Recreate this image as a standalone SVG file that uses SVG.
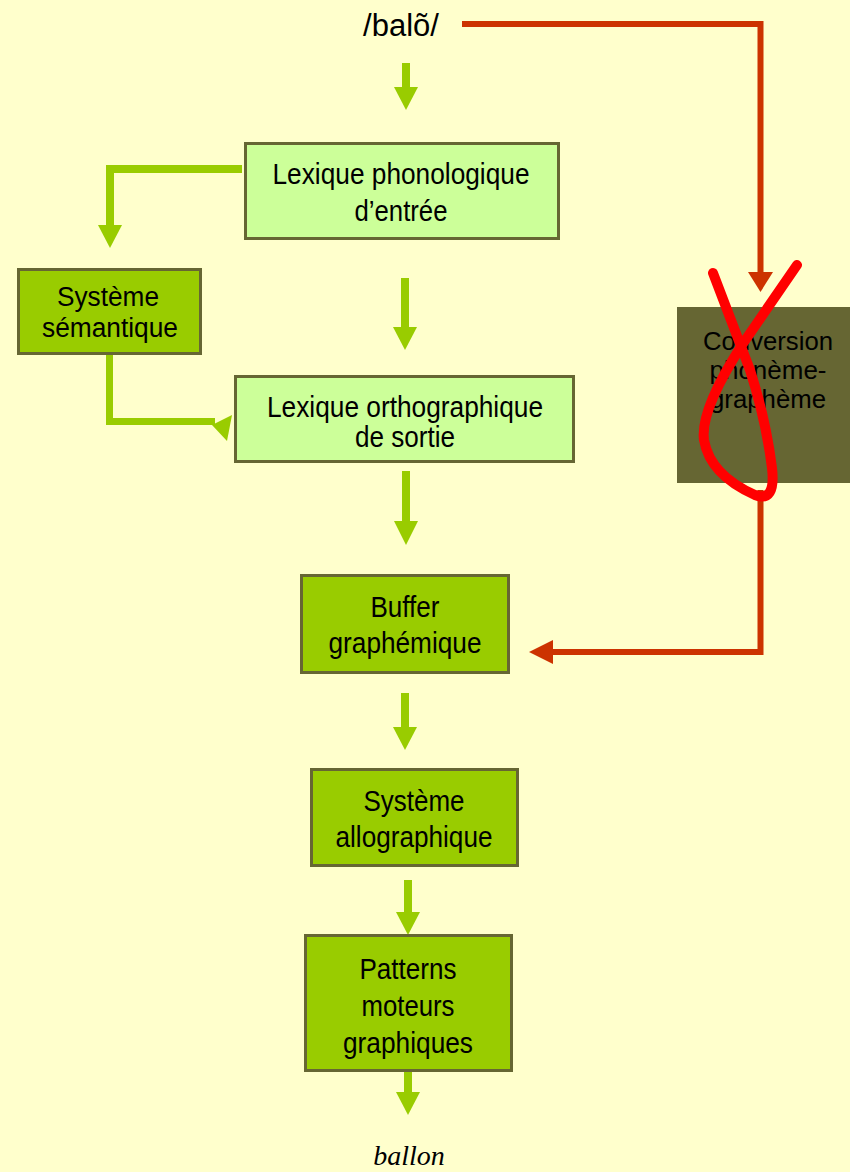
<svg xmlns="http://www.w3.org/2000/svg" width="850" height="1172" viewBox="0 0 850 1172">
<defs>
<style>
.bg{fill:#FFFFCC}
.light{fill:#CCFF99;stroke:#666633;stroke-width:3}
.dark{fill:#99CC00;stroke:#666633;stroke-width:3}
.olive{fill:#666633}
.t{font-family:"Liberation Sans",Arial,sans-serif;font-size:30px;fill:#000;text-anchor:middle}
.c{font-size:25px}
.g{fill:none;stroke:#99CC00;stroke-width:8}
.gh{fill:#99CC00}
.r{fill:none;stroke:#CC3300;stroke-width:6}
.rh{fill:#CC3300}
</style>
</defs>
<rect class="bg" x="0" y="0" width="850" height="1172"/>

<g id="connectors">
  <line class="g" x1="406" y1="63" x2="406" y2="89"/>
  <polygon class="gh" points="394,87 418,87 406,110"/>
  <polyline class="g" points="242,169 110,169 110,227"/>
  <polygon class="gh" points="98,225 122,225 110,248"/>
  <line class="g" x1="405" y1="278" x2="405" y2="329"/>
  <polygon class="gh" points="393,327 417,327 405,350"/>
  <polyline class="g" points="109.5,354 109.5,421.5 215,421.5" style="stroke-width:7"/>
  <polygon class="gh" points="212,425 232,415 227,441"/>
  <line class="g" x1="406" y1="471" x2="406" y2="523"/>
  <polygon class="gh" points="394,521 418,521 406,545"/>
  <line class="g" x1="405" y1="693" x2="405" y2="729"/>
  <polygon class="gh" points="393,727 417,727 405,750"/>
  <line class="g" x1="408" y1="880" x2="408" y2="914"/>
  <polygon class="gh" points="396,912 420,912 408,935"/>
  <line class="g" x1="408" y1="1070" x2="408" y2="1094"/>
  <polygon class="gh" points="396,1092 420,1092 408,1115"/>
  <polyline class="r" points="462,24 760.5,24 760.5,275"/>
  <polygon class="rh" points="748,272 773,272 760.5,292"/>
  <polyline class="r" points="760.5,490 760.5,652 550,652"/>
  <polygon class="rh" points="553,640 553,664 529,652"/>
</g>

<text class="t" x="401" y="36" style="font-size:31px">/balõ/</text>

<g id="lexique-phonologique">
  <rect class="light" x="245.5" y="143.5" width="313" height="95"/>
  <text class="t" x="401" y="184" textLength="257" lengthAdjust="spacingAndGlyphs">Lexique phonologique</text>
  <text class="t" x="401" y="221" textLength="93" lengthAdjust="spacingAndGlyphs">d’entrée</text>
</g>

<g id="systeme-semantique">
  <rect class="dark" x="18.5" y="269.5" width="182" height="84"/>
  <text class="t" x="108" y="306" textLength="102" lengthAdjust="spacingAndGlyphs" style="font-size:27px">Système</text>
  <text class="t" x="110" y="337" textLength="136" lengthAdjust="spacingAndGlyphs" style="font-size:27px">sémantique</text>
</g>

<g id="lexique-orthographique">
  <rect class="light" x="235.5" y="376.5" width="338" height="85"/>
  <text class="t" x="405" y="417" textLength="276" lengthAdjust="spacingAndGlyphs">Lexique orthographique</text>
  <text class="t" x="405" y="447" textLength="100" lengthAdjust="spacingAndGlyphs">de sortie</text>
</g>

<g id="conversion">
  <rect class="olive" x="677" y="307" width="173" height="176"/>
  <text class="t c" x="768" y="350" textLength="130" lengthAdjust="spacingAndGlyphs">Conversion</text>
  <text class="t c" x="768" y="379" textLength="117" lengthAdjust="spacingAndGlyphs">phonème-</text>
  <text class="t c" x="768" y="408" textLength="116" lengthAdjust="spacingAndGlyphs">graphème</text>
  <path d="M 797 265 L 742 345 Q 700 410 704 440 Q 710 475 755 495 Q 776 503 772 468 Q 766 420 750 370 L 713 273" fill="none" stroke="#FF0000" stroke-width="10" stroke-linecap="round" stroke-linejoin="round"/>
</g>

<g id="buffer-graphemique">
  <rect class="dark" x="301.5" y="575.5" width="207" height="97"/>
  <text class="t" x="405" y="617" textLength="69" lengthAdjust="spacingAndGlyphs">Buffer</text>
  <text class="t" x="405" y="653" textLength="153" lengthAdjust="spacingAndGlyphs">graphémique</text>
</g>

<g id="systeme-allographique">
  <rect class="dark" x="311.5" y="769.5" width="206" height="96"/>
  <text class="t" x="414" y="811" textLength="101" lengthAdjust="spacingAndGlyphs">Système</text>
  <text class="t" x="414" y="847" textLength="157" lengthAdjust="spacingAndGlyphs">allographique</text>
</g>

<g id="patterns-moteurs">
  <rect class="dark" x="305.5" y="935.5" width="206" height="135"/>
  <text class="t" x="408" y="979" textLength="97" lengthAdjust="spacingAndGlyphs">Patterns</text>
  <text class="t" x="408" y="1016" textLength="93" lengthAdjust="spacingAndGlyphs">moteurs</text>
  <text class="t" x="408" y="1053" textLength="130" lengthAdjust="spacingAndGlyphs">graphiques</text>
</g>

<text x="409" y="1165" style="font-family:'Liberation Serif','Times New Roman',serif;font-style:italic;font-size:28px;text-anchor:middle;fill:#000">ballon</text>
</svg>
